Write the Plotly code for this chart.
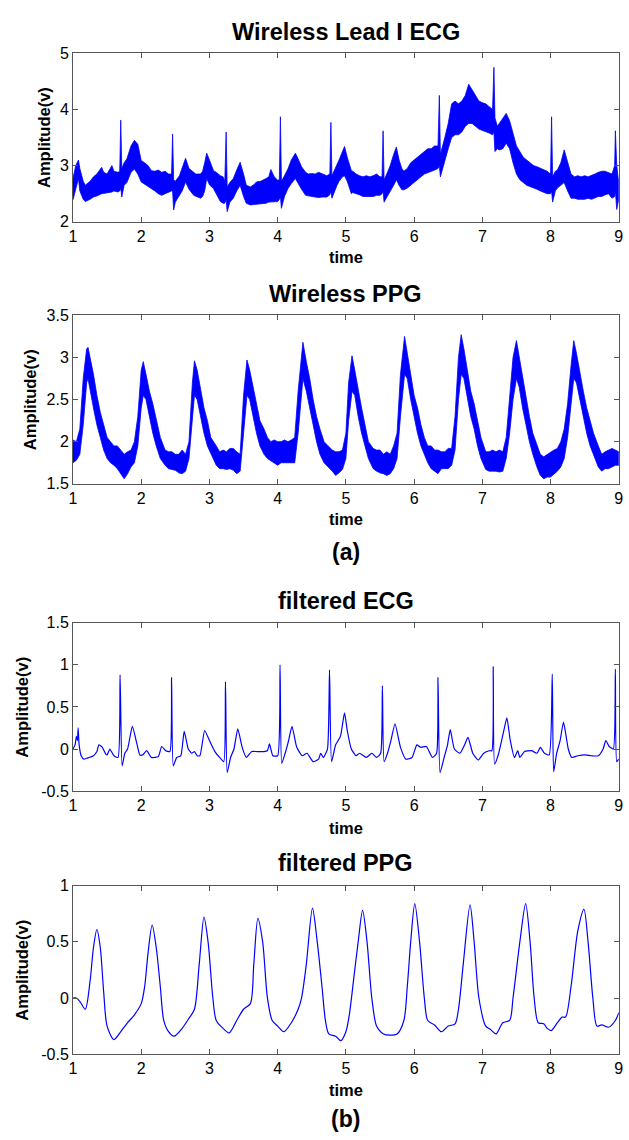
import plotly.graph_objects as go

# ---------------- data ----------------
# Raw wireless Lead I ECG: sample times with lower / upper envelope of the noisy trace
ecg_raw_t = [1.00, 1.04, 1.08, 1.10, 1.15, 1.18, 1.25, 1.30, 1.35, 1.42, 1.45, 1.50, 1.57, 1.60, 1.66,
             1.685, 1.70, 1.715, 1.75, 1.79, 1.85, 1.90, 1.95, 2.00, 2.05, 2.10, 2.15, 2.20, 2.25, 2.30,
             2.35, 2.40, 2.445, 2.46, 2.475, 2.50, 2.56, 2.60, 2.65, 2.70, 2.77, 2.80, 2.87, 2.90, 2.93,
             2.96, 3.00, 3.06, 3.10, 3.16, 3.20, 3.225, 3.245, 3.26, 3.30, 3.35, 3.40, 3.45, 3.50, 3.54,
             3.60, 3.65, 3.69, 3.75, 3.83, 3.87, 3.90, 3.95, 4.00, 4.025, 4.04, 4.055, 4.10, 4.15, 4.20,
             4.26, 4.30, 4.35, 4.41, 4.45, 4.50, 4.55, 4.60, 4.65, 4.72, 4.765, 4.78, 4.795, 4.87, 4.90,
             4.95, 4.98, 5.02, 5.08, 5.10, 5.15, 5.20, 5.25, 5.30, 5.35, 5.40, 5.45, 5.50, 5.53, 5.545,
             5.56, 5.60, 5.65, 5.70, 5.74, 5.78, 5.82, 5.85, 5.90, 5.95, 6.00, 6.05, 6.10, 6.15, 6.20,
             6.25, 6.30, 6.35, 6.37, 6.385, 6.42, 6.45, 6.50, 6.55, 6.60, 6.65, 6.70, 6.75, 6.80, 6.85,
             6.90, 6.95, 7.00, 7.05, 7.10, 7.15, 7.17, 7.185, 7.22, 7.25, 7.30, 7.35, 7.40, 7.45, 7.50,
             7.55, 7.60, 7.65, 7.70, 7.75, 7.80, 7.85, 7.90, 7.95, 8.00, 8.015, 8.03, 8.07, 8.10, 8.15,
             8.20, 8.25, 8.30, 8.35, 8.40, 8.45, 8.50, 8.55, 8.60, 8.65, 8.70, 8.75, 8.80, 8.85, 8.90,
             8.94, 8.95, 8.97, 9.00]
ecg_raw_lo = [2.39, 2.55, 2.77, 2.55, 2.40, 2.36, 2.40, 2.44, 2.46, 2.50, 2.50, 2.52, 2.53, 2.55, 2.53,
              2.55, 2.60, 2.44, 2.65, 2.70, 2.88, 2.94, 2.85, 2.71, 2.66, 2.62, 2.59, 2.55, 2.50, 2.47,
              2.50, 2.53, 2.55, 2.55, 2.21, 2.35, 2.47, 2.55, 2.71, 2.58, 2.47, 2.45, 2.42, 2.45, 2.55,
              2.77, 2.66, 2.59, 2.50, 2.36, 2.33, 2.33, 2.40, 2.18, 2.35, 2.42, 2.55, 2.65, 2.45, 2.33,
              2.30, 2.30, 2.30, 2.32, 2.33, 2.35, 2.36, 2.36, 2.36, 2.40, 2.45, 2.24, 2.45, 2.59, 2.68,
              2.77, 2.70, 2.58, 2.47, 2.46, 2.45, 2.44, 2.43, 2.44, 2.44, 2.48, 2.55, 2.42, 2.65, 2.72,
              2.80, 2.82, 2.72, 2.50, 2.52, 2.50, 2.48, 2.45, 2.45, 2.45, 2.45, 2.47, 2.47, 2.50, 2.55,
              2.35, 2.45, 2.55, 2.65, 2.75, 2.65, 2.57, 2.57, 2.60, 2.65, 2.70, 2.75, 2.80, 2.85, 2.88,
              2.90, 2.92, 2.95, 3.00, 2.80, 2.95, 3.10, 3.30, 3.50, 3.55, 3.55, 3.60, 3.70, 3.75, 3.75,
              3.70, 3.65, 3.62, 3.60, 3.58, 3.55, 3.60, 3.25, 3.30, 3.28, 3.30, 3.40, 3.30, 3.05, 2.85,
              2.75, 2.70, 2.65, 2.62, 2.60, 2.58, 2.55, 2.52, 2.50, 2.50, 2.55, 2.35, 2.55, 2.60, 2.65,
              2.70, 2.55, 2.42, 2.42, 2.40, 2.40, 2.40, 2.42, 2.40, 2.42, 2.45, 2.45, 2.48, 2.50, 2.42,
              2.45, 2.55, 2.22, 2.40]
ecg_raw_hi = [2.77, 3.00, 3.10, 2.95, 2.72, 2.65, 2.72, 2.80, 2.85, 2.97, 2.88, 2.85, 3.00, 2.90, 2.88,
              2.90, 3.81, 2.95, 3.05, 3.12, 3.35, 3.45, 3.38, 3.09, 3.05, 3.00, 2.91, 2.90, 2.92, 2.88,
              2.90, 2.85, 2.85, 3.56, 2.75, 2.72, 2.82, 2.95, 3.13, 2.95, 2.88, 2.85, 2.85, 2.90, 3.05,
              3.22, 3.10, 2.91, 2.88, 2.82, 2.80, 2.72, 3.60, 2.62, 2.70, 2.77, 2.92, 3.06, 2.85, 2.65,
              2.62, 2.66, 2.71, 2.72, 2.77, 2.80, 2.93, 2.80, 2.74, 2.75, 3.87, 2.72, 2.82, 2.94, 3.10,
              3.22, 3.12, 2.98, 2.88, 2.85, 2.86, 2.85, 2.88, 2.85, 2.82, 2.85, 3.77, 2.82, 3.00, 3.10,
              3.25, 3.34, 3.15, 2.91, 2.90, 2.85, 2.82, 2.80, 2.82, 2.80, 2.82, 2.85, 2.80, 2.80, 3.62,
              2.75, 2.85, 3.00, 3.20, 3.33, 3.10, 2.95, 2.90, 2.95, 3.05, 3.10, 3.15, 3.20, 3.25, 3.30,
              3.30, 3.35, 3.35, 4.25, 3.20, 3.35, 3.50, 3.75, 4.10, 4.15, 4.10, 4.15, 4.25, 4.45, 4.35,
              4.25, 4.15, 4.12, 4.10, 4.05, 4.00, 4.75, 3.85, 3.70, 3.75, 3.85, 3.93, 3.80, 3.55, 3.35,
              3.25, 3.15, 3.10, 3.05, 3.00, 2.98, 2.95, 2.92, 2.90, 2.85, 3.87, 2.80, 2.90, 2.92, 3.05,
              3.28, 3.05, 2.85, 2.80, 2.82, 2.80, 2.82, 2.80, 2.82, 2.85, 2.88, 2.90, 2.90, 2.88, 2.85,
              3.00, 3.62, 3.00, 2.70]

# Raw wireless PPG: sample times with lower / upper envelope
ppg_raw_t = [1.00, 1.05, 1.10, 1.15, 1.20, 1.22, 1.25, 1.30, 1.35, 1.40, 1.45, 1.50, 1.55, 1.60, 1.65,
             1.70, 1.75, 1.80, 1.85, 1.90, 1.95, 2.00, 2.03, 2.07, 2.12, 2.17, 2.22, 2.28, 2.35, 2.40,
             2.45, 2.50, 2.55, 2.60, 2.65, 2.70, 2.75, 2.78, 2.82, 2.87, 2.92, 2.97, 3.02, 3.10, 3.15,
             3.20, 3.25, 3.30, 3.35, 3.40, 3.45, 3.50, 3.55, 3.59, 3.64, 3.69, 3.74, 3.80, 3.85, 3.90,
             3.95, 4.00, 4.05, 4.10, 4.15, 4.20, 4.25, 4.30, 4.37, 4.42, 4.47, 4.52, 4.57, 4.62, 4.68,
             4.74, 4.80, 4.85, 4.90, 4.95, 5.00, 5.04, 5.09, 5.13, 5.18, 5.23, 5.28, 5.33, 5.40, 5.45,
             5.50, 5.55, 5.60, 5.65, 5.70, 5.75, 5.80, 5.86, 5.90, 5.95, 6.00, 6.05, 6.10, 6.15, 6.20,
             6.25, 6.30, 6.35, 6.40, 6.45, 6.50, 6.55, 6.60, 6.65, 6.69, 6.73, 6.78, 6.83, 6.88, 6.93,
             6.98, 7.05, 7.10, 7.15, 7.20, 7.25, 7.30, 7.35, 7.40, 7.45, 7.50, 7.54, 7.59, 7.64, 7.69,
             7.74, 7.80, 7.85, 7.90, 7.95, 8.00, 8.05, 8.10, 8.15, 8.20, 8.25, 8.30, 8.34, 8.38, 8.43,
             8.48, 8.53, 8.58, 8.63, 8.70, 8.75, 8.80, 8.85, 8.90, 8.95, 9.00]
ppg_raw_lo = [1.75, 1.78, 1.85, 2.20, 2.70, 2.75, 2.65, 2.40, 2.20, 2.05, 1.90, 1.80, 1.75, 1.72, 1.68,
              1.62, 1.56, 1.62, 1.70, 1.75, 1.95, 2.40, 2.55, 2.50, 2.30, 2.10, 1.95, 1.80, 1.72, 1.68,
              1.67, 1.66, 1.63, 1.62, 1.65, 1.80, 2.25, 2.55, 2.50, 2.30, 2.10, 1.95, 1.85, 1.72, 1.68,
              1.68, 1.67, 1.68, 1.66, 1.62, 1.65, 2.10, 2.55, 2.50, 2.30, 2.10, 1.95, 1.85, 1.80, 1.78,
              1.75, 1.72, 1.75, 1.75, 1.75, 1.75, 1.75, 2.10, 2.75, 2.60, 2.40, 2.20, 2.00, 1.85, 1.75,
              1.70, 1.65, 1.60, 1.63, 1.67, 1.80, 2.25, 2.60, 2.55, 2.30, 2.10, 1.95, 1.80, 1.68, 1.65,
              1.63, 1.62, 1.60, 1.62, 1.68, 1.80, 2.30, 2.80, 2.75, 2.50, 2.30, 2.10, 1.95, 1.85, 1.75,
              1.68, 1.65, 1.62, 1.68, 1.68, 1.68, 1.72, 1.90, 2.50, 2.80, 2.75, 2.55, 2.30, 2.15, 1.95,
              1.80, 1.67, 1.65, 1.65, 1.65, 1.64, 1.65, 1.80, 2.10, 2.50, 2.75, 2.65, 2.40, 2.20, 2.00,
              1.85, 1.70, 1.60, 1.56, 1.58, 1.58, 1.62, 1.65, 1.70, 1.80, 2.05, 2.45, 2.75, 2.70, 2.50,
              2.30, 2.10, 1.95, 1.85, 1.70, 1.65, 1.68, 1.68, 1.70, 1.72, 1.72]
ppg_raw_hi = [2.02, 2.00, 2.15, 2.75, 3.10, 3.12, 3.00, 2.80, 2.55, 2.35, 2.20, 2.05, 2.00, 1.95, 1.95,
              1.90, 1.85, 1.88, 1.90, 2.00, 2.30, 2.85, 2.95, 2.80, 2.60, 2.45, 2.25, 2.05, 1.90, 1.88,
              1.88, 1.85, 1.85, 1.90, 1.85, 2.00, 2.70, 2.96, 2.85, 2.60, 2.40, 2.25, 2.05, 1.95, 1.88,
              1.90, 1.88, 1.92, 1.92, 1.88, 1.85, 2.55, 2.97, 2.85, 2.65, 2.45, 2.25, 2.15, 2.05, 2.00,
              2.02, 2.00, 2.00, 2.02, 2.00, 2.02, 2.05, 2.60, 3.18, 2.95, 2.75, 2.50, 2.30, 2.15, 2.00,
              1.95, 1.90, 1.88, 1.88, 1.90, 2.10, 2.70, 3.02, 2.85, 2.60, 2.40, 2.20, 2.00, 1.92, 1.90,
              1.90, 1.85, 1.88, 1.85, 1.95, 2.10, 2.80, 3.25, 3.05, 2.80, 2.55, 2.40, 2.20, 2.05, 1.95,
              1.95, 1.90, 1.90, 1.88, 1.88, 1.92, 1.92, 2.30, 3.00, 3.27, 3.10, 2.85, 2.60, 2.45, 2.25,
              2.05, 1.88, 1.88, 1.90, 1.88, 1.90, 1.88, 2.05, 2.55, 3.00, 3.20, 3.00, 2.75, 2.50, 2.30,
              2.10, 1.95, 1.85, 1.82, 1.85, 1.88, 1.90, 1.92, 2.00, 2.15, 2.45, 2.90, 3.20, 3.05, 2.80,
              2.60, 2.40, 2.25, 2.10, 1.95, 1.85, 1.88, 1.90, 1.92, 1.90, 1.88]

# Filtered ECG
ecg_f_t = [1.00, 1.03, 1.05, 1.065, 1.075, 1.09, 1.12, 1.16, 1.20, 1.30, 1.35, 1.38, 1.43, 1.48, 1.50,
           1.54, 1.60, 1.66, 1.69, 1.72, 1.76, 1.80, 1.87, 1.94, 1.98, 2.02, 2.08, 2.15, 2.25, 2.30,
           2.36, 2.42, 2.445, 2.47, 2.52, 2.58, 2.63, 2.69, 2.74, 2.78, 2.82, 2.86, 2.93, 3.00, 3.08,
           3.15, 3.21, 3.235, 3.26, 3.31, 3.36, 3.415, 3.48, 3.54, 3.62, 3.70, 3.80, 3.85, 3.88, 3.93,
           4.00, 4.035, 4.06, 4.11, 4.16, 4.21, 4.28, 4.36, 4.43, 4.52, 4.60, 4.63, 4.67, 4.73, 4.76,
           4.79, 4.85, 4.92, 4.98, 5.02, 5.08, 5.15, 5.20, 5.30, 5.38, 5.45, 5.51, 5.535, 5.56, 5.61,
           5.66, 5.72, 5.80, 5.88, 5.97, 6.04, 6.10, 6.18, 6.27, 6.33, 6.35, 6.38, 6.44, 6.49, 6.53,
           6.59, 6.67, 6.74, 6.79, 6.86, 6.94, 7.02, 7.10, 7.14, 7.16, 7.18, 7.24, 7.31, 7.36, 7.41,
           7.47, 7.52, 7.55, 7.62, 7.72, 7.80, 7.85, 7.91, 7.98, 8.025, 8.045, 8.09, 8.14, 8.19, 8.26,
           8.31, 8.40, 8.50, 8.60, 8.70, 8.77, 8.81, 8.86, 8.92, 8.95, 8.97, 9.00]
ecg_f_v = [0.00, 0.05, 0.15, 0.10, 0.25, 0.05, -0.08, -0.12, -0.11, -0.08, -0.03, 0.05, 0.02, -0.06, -0.07,
           0.00, -0.08, -0.10, 0.88, -0.20, -0.05, 0.00, 0.27, 0.05, -0.07, -0.07, -0.02, -0.10, -0.09, 0.03,
           -0.02, -0.03, 0.85, -0.20, -0.10, -0.08, 0.21, 0.00, -0.05, -0.03, -0.08, -0.08, 0.22, 0.10, -0.03,
           -0.10, -0.15, 0.80, -0.28, -0.10, 0.00, 0.24, 0.02, -0.10, -0.03, -0.03, -0.03, -0.02, 0.06, -0.08,
           -0.08, 1.00, -0.17, -0.05, 0.10, 0.27, 0.02, -0.08, -0.05, -0.15, -0.12, -0.05, -0.10, 0.00, 0.94,
           -0.15, 0.05, 0.15, 0.43, 0.22, 0.00, -0.08, -0.05, -0.10, -0.05, -0.10, -0.05, 0.75, -0.15, -0.05,
           0.10, 0.30, 0.02, -0.12, -0.10, 0.05, 0.02, 0.03, -0.10, -0.05, 0.85, -0.28, -0.10, 0.05, 0.23,
           0.00, -0.05, 0.05, 0.14, -0.05, -0.13, -0.05, -0.02, -0.02, 0.98, -0.18, -0.05, 0.20, 0.37, 0.10,
           -0.10, -0.02, -0.10, -0.03, -0.02, -0.05, 0.02, -0.05, -0.07, 0.89, -0.27, -0.05, 0.10, 0.32, 0.00,
           -0.10, -0.08, -0.07, -0.08, -0.08, 0.00, 0.10, 0.03, 0.00, 0.95, -0.15, -0.12]

# Filtered PPG
ppg_f_t = [1.00, 1.05, 1.10, 1.18, 1.25, 1.30, 1.35, 1.40, 1.45, 1.50, 1.60, 1.70, 1.80, 1.90, 2.00,
           2.05, 2.10, 2.16, 2.22, 2.28, 2.33, 2.40, 2.48, 2.60, 2.70, 2.78, 2.85, 2.92, 2.98, 3.05,
           3.10, 3.20, 3.29, 3.40, 3.50, 3.60, 3.65, 3.71, 3.78, 3.85, 3.92, 4.00, 4.09, 4.20, 4.30,
           4.35, 4.42, 4.51, 4.58, 4.65, 4.70, 4.75, 4.85, 4.925, 5.00, 5.05, 5.12, 5.18, 5.245, 5.31,
           5.38, 5.45, 5.55, 5.65, 5.75, 5.85, 5.90, 5.95, 6.01, 6.08, 6.15, 6.20, 6.30, 6.40, 6.50,
           6.60, 6.65, 6.72, 6.82, 6.88, 6.95, 7.05, 7.12, 7.20, 7.30, 7.40, 7.45, 7.55, 7.635, 7.70,
           7.76, 7.82, 7.90, 7.95, 8.01, 8.10, 8.17, 8.22, 8.30, 8.40, 8.49, 8.55, 8.62, 8.68, 8.75,
           8.85, 8.95, 9.00]
ppg_f_v = [0.00, 0.00, -0.03, -0.10, 0.15, 0.45, 0.61, 0.45, 0.05, -0.25, -0.37, -0.30, -0.22, -0.15, -0.05,
           0.10, 0.40, 0.65, 0.45, 0.10, -0.20, -0.30, -0.34, -0.27, -0.18, -0.10, 0.30, 0.72, 0.50, 0.00,
           -0.20, -0.27, -0.31, -0.20, -0.10, -0.05, 0.30, 0.71, 0.50, 0.00, -0.20, -0.25, -0.30, -0.22, -0.10,
           0.00, 0.30, 0.80, 0.50, 0.10, -0.20, -0.32, -0.34, -0.38, -0.30, -0.15, 0.20, 0.50, 0.78, 0.50,
           0.00, -0.25, -0.32, -0.33, -0.32, -0.20, 0.10, 0.50, 0.84, 0.50, 0.00, -0.20, -0.24, -0.30, -0.25,
           -0.23, -0.10, 0.30, 0.83, 0.50, 0.00, -0.25, -0.28, -0.32, -0.22, -0.20, 0.00, 0.50, 0.84, 0.50,
           0.00, -0.22, -0.23, -0.27, -0.29, -0.22, -0.17, -0.17, 0.10, 0.60, 0.79, 0.50, 0.00, -0.25, -0.24,
           -0.26, -0.20, -0.13]

x_ticks = [1, 2, 3, 4, 5, 6, 7, 8, 9]
panel_titles = ["Wireless Lead I ECG", "Wireless PPG", "filtered ECG", "filtered PPG"]
y_ranges = [[2, 5], [1.5, 3.5], [-0.5, 1.5], [-0.5, 1]]
y_ticks = [[2, 3, 4, 5], [1.5, 2, 2.5, 3, 3.5], [-0.5, 0, 0.5, 1, 1.5], [-0.5, 0, 0.5, 1]]
y_ticktext = [["2", "3", "4", "5"], ["1.5", "2", "2.5", "3", "3.5"],
              ["-0.5", "0", "0.5", "1", "1.5"], ["-0.5", "0", "0.5", "1"]]
group_labels = ["(a)", "(b)"]

# ---------------- layout geometry (pixels) ----------------
W, H = 629, 1140
X_LEFT, X_RIGHT = 70, 623.7
panel_px = [(46, 217), (312, 483), (624, 795), (891, 1062)]  # top, bottom
title_y = [24, 290, 602, 868]
time_y = [253, 519, 832, 1098]
amp_x = [40, 26, 18, 18]
group_y = [552, 1128]

BLUE = "#0000FF"
AXIS_COL = "#555555"
FONT = "Liberation Sans, Arial, sans-serif"


def py(p):
    return 1 - p / H


def px(p):
    return p / W


fig = go.Figure()


def band(t, lo, hi, ax):
    xs = list(t) + list(t)[::-1]
    ys = list(hi) + list(lo)[::-1]
    fig.add_trace(go.Scatter(x=xs, y=ys, mode="lines", fill="toself", fillcolor=BLUE,
                             line=dict(color=BLUE, width=0.8), xaxis=f"x{ax}", yaxis=f"y{ax}",
                             hoverinfo="skip", showlegend=False))


band(ecg_raw_t, ecg_raw_lo, ecg_raw_hi, 1)
band(ppg_raw_t, ppg_raw_lo, ppg_raw_hi, 2)

fig.add_trace(go.Scatter(x=ecg_f_t, y=ecg_f_v, mode="lines",
                         line=dict(color=BLUE, width=1.2, shape="spline", smoothing=0.5),
                         xaxis="x3", yaxis="y3", showlegend=False))
fig.add_trace(go.Scatter(x=ppg_f_t, y=ppg_f_v, mode="lines",
                         line=dict(color=BLUE, width=1.2, shape="spline", smoothing=0.8),
                         xaxis="x4", yaxis="y4", showlegend=False))

layout = dict(width=W, height=H, margin=dict(l=0, r=0, t=0, b=0),
              paper_bgcolor="white", plot_bgcolor="white", showlegend=False)

annotations = []
for i in range(4):
    k = i + 1
    top, bot = panel_px[i]
    layout[f"xaxis{k}"] = dict(domain=[px(X_LEFT), px(X_RIGHT)], range=[1, 9], anchor=f"y{k}",
                               tickvals=x_ticks, ticks="inside", ticklen=5, tickcolor=AXIS_COL,
                               showline=True, linecolor=AXIS_COL, linewidth=1, mirror="ticks",
                               showgrid=False, zeroline=False,
                               tickfont=dict(family=FONT, size=16, color="black"))
    layout[f"yaxis{k}"] = dict(domain=[py(bot), py(top)], range=y_ranges[i], anchor=f"x{k}",
                               tickvals=y_ticks[i], ticktext=y_ticktext[i], ticks="inside",
                               ticklen=5, tickcolor=AXIS_COL, showline=True, linecolor=AXIS_COL,
                               linewidth=1, mirror="ticks", showgrid=False, zeroline=False,
                               tickfont=dict(family=FONT, size=16, color="black"))
    xc = (X_LEFT + X_RIGHT) / 2
    annotations.append(dict(text=f"<b>{panel_titles[i]}</b>", x=px(xc), y=py(title_y[i]),
                            xref="paper", yref="paper", showarrow=False, xanchor="center",
                            yanchor="middle", font=dict(family=FONT, size=23.5, color="black")))
    annotations.append(dict(text="<b>time</b>", x=px(xc), y=py(time_y[i]), xref="paper",
                            yref="paper", showarrow=False, xanchor="center", yanchor="middle",
                            font=dict(family=FONT, size=16.5, color="black")))
    annotations.append(dict(text="<b>Amplitude(v)</b>", x=px(amp_x[i]), y=py((top + bot) / 2),
                            xref="paper", yref="paper", showarrow=False, textangle=-90,
                            xanchor="center", yanchor="middle",
                            font=dict(family=FONT, size=16.5, color="black")))

for lbl, gy in zip(group_labels, group_y):
    annotations.append(dict(text=f"<b>{lbl}</b>", x=px((X_LEFT + X_RIGHT) / 2), y=py(gy),
                            xref="paper", yref="paper", showarrow=False, xanchor="center",
                            yanchor="middle", font=dict(family=FONT, size=23, color="black")))

layout["annotations"] = annotations
fig.update_layout(**layout)
fig.write_html("out.html")
